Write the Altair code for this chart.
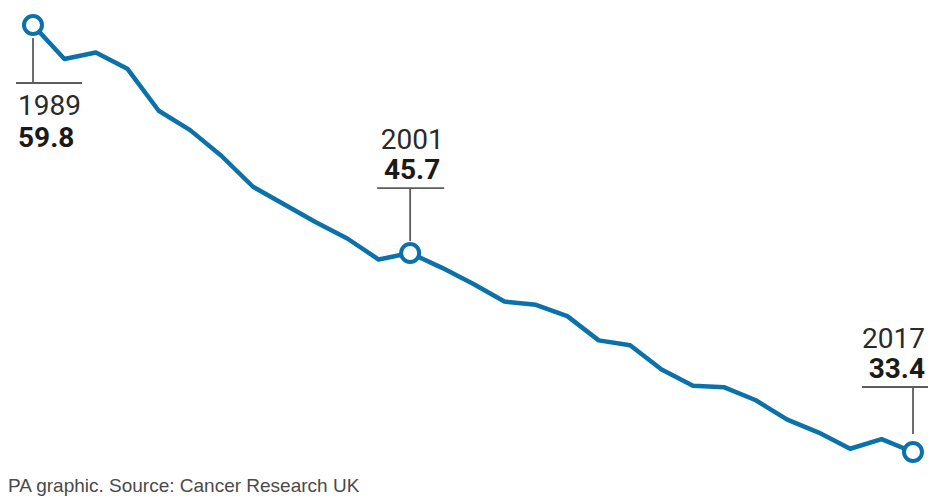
import altair as alt
import pandas as pd

years = [1989, 1990, 1991, 1992, 1993, 1994, 1995, 1996, 1997, 1998,
         1999, 2000, 2001, 2002, 2003, 2004, 2005, 2006, 2007, 2008,
         2009, 2010, 2011, 2012, 2013, 2014, 2015, 2016, 2017]
rates = [59.8, 57.7, 58.1, 57.1, 54.5, 53.3, 51.7, 49.8, 48.7, 47.6,
         46.6, 45.3, 45.7, 44.8, 43.8, 42.7, 42.5, 41.8, 40.3, 40.0,
         38.5, 37.5, 37.4, 36.6, 35.4, 34.6, 33.6, 34.2, 33.4]
highlight_years = [1989, 2001, 2017]
source_text = "PA graphic. Source: Cancer Research UK"

BLUE = "#0a71aa"
GREY = "#5c5c5c"

df = pd.DataFrame({"year": years, "rate": rates})
hl = df[df["year"].isin(highlight_years)].copy()
hl["year_label"] = hl["year"].astype(str)
hl["rate_label"] = hl["rate"].map(lambda v: f"{v:.1f}")

xs = alt.Scale(domain=[1989, 2017], nice=False, zero=False)
ys = alt.Scale(domain=[33.4, 59.8], nice=False, zero=False)
X = alt.X("year:Q", scale=xs, axis=None)
Y = alt.Y("rate:Q", scale=ys, axis=None)

layers = []

# annotation leader lines and labels (pixel offsets relative to the point)
cfg = {
    1989: dict(v0=13, v1=58, h0=-17, h1=49, align="left", dx=-15, ydy=90, vdy=122),
    2001: dict(v0=-12, v1=-65, h0=-33, h1=34, align="center", dx=2, ydy=-104, vdy=-74),
    2017: dict(v0=-18, v1=-65, h0=-51, h1=15, align="right", dx=12, ydy=-104, vdy=-74),
}

text_layers = []
for yr, c in cfg.items():
    base = alt.Chart(hl).transform_filter(alt.datum.year == yr)
    layers.append(
        base.mark_rule(color=GREY, strokeWidth=1.8, yOffset=c["v0"], y2Offset=c["v1"])
        .encode(x=X, y=Y, y2="rate:Q")
    )
    layers.append(
        base.mark_rule(color=GREY, strokeWidth=1.8, xOffset=c["h0"], x2Offset=c["h1"], yOffset=c["v1"])
        .encode(x=X, x2="year:Q", y=Y)
    )
    text_layers.append(
        base.mark_text(align=c["align"], baseline="alphabetic", dx=c["dx"], dy=c["ydy"],
                       font="Roboto", fontWeight="normal", fontSize=28, color="#2a2a2a")
        .encode(x=X, y=Y, text="year_label:N")
    )
    text_layers.append(
        base.mark_text(align=c["align"], baseline="alphabetic", dx=c["dx"], dy=c["vdy"],
                       font="Roboto", fontWeight="bold", fontSize=28, color="#1a1a1a")
        .encode(x=X, y=Y, text="rate_label:N")
    )

line = alt.Chart(df).mark_line(color=BLUE, strokeWidth=4.5, strokeJoin="round", strokeCap="round").encode(x=X, y=Y)
layers.append(line)

points = alt.Chart(hl).mark_point(
    shape="circle", size=324, filled=True, fill="white", stroke=BLUE,
    strokeWidth=4, fillOpacity=1, strokeOpacity=1
).encode(x=X, y=Y)
layers.append(points)

layers.extend(text_layers)

src = alt.Chart(pd.DataFrame({"t": [source_text]})).mark_text(
    align="left", baseline="alphabetic", font="Liberation Sans", fontSize=19, color="#4a4a4a"
).encode(x=alt.value(-25), y=alt.value(467), text="t:N")
layers.append(src)

chart = alt.layer(*layers).properties(
    width=880,
    height=427,
    autosize=alt.AutoSizeParams(type="none"),
    padding={"left": 25, "top": 17, "right": 18, "bottom": 47},
    background="white",
).configure_view(stroke=None)

chart.save("out.html", embed_options={"renderer": "svg", "actions": False})
